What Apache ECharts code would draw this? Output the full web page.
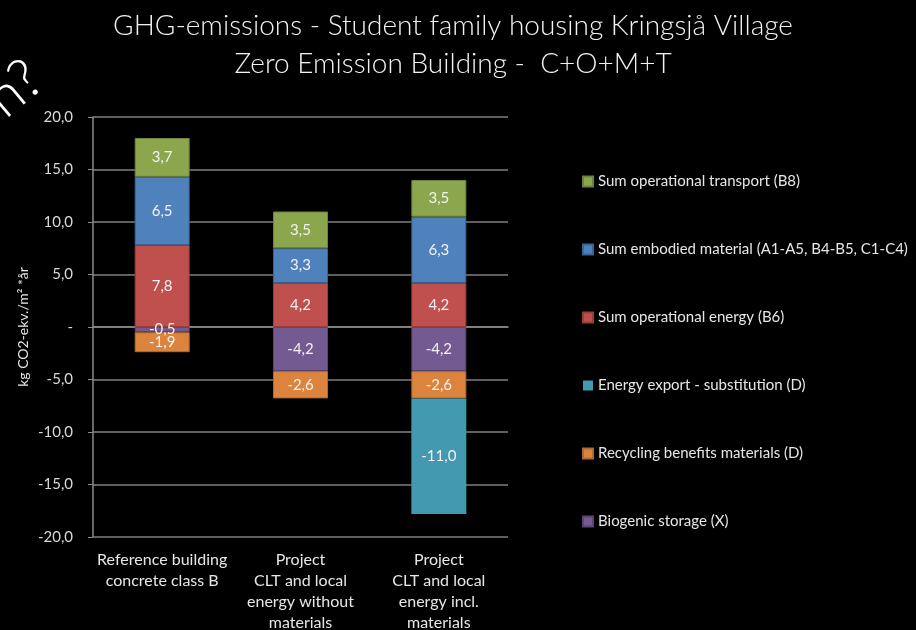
<!DOCTYPE html>
<html>
<head>
<meta charset="utf-8">
<title>GHG-emissions Kringsjå</title>
<script src="https://cdn.jsdelivr.net/npm/echarts@6/dist/echarts.min.js"></script>
<style>
html,body{margin:0;padding:0;background:#000;}
#chart{width:916px;height:630px;}
</style>
</head>
<body>
<div id="chart"></div>
<script>
// data
var categories = ['Reference building\nconcrete class B', 'Project\nCLT and local\nenergy without\nmaterials', 'Project\nCLT and local\nenergy incl.\nmaterials'];
var operationalEnergy = [7.8, 4.2, 4.2];
var embodiedMaterial = [6.5, 3.3, 6.3];
var operationalTransport = [3.7, 3.5, 3.5];
var biogenicStorage = [-0.5, -4.2, -4.2];
var recyclingBenefits = [-1.9, -2.6, -2.6];
var energyExport = [0, 0, -11.0];
var legendOrder = ['Sum operational transport (B8)', 'Sum embodied material (A1-A5, B4-B5, C1-C4)', 'Sum operational energy (B6)', 'Energy export - substitution (D)', 'Recycling benefits materials (D)', 'Biogenic storage (X)'];

var font = 'Lato, "Open Sans", sans-serif';
var chart = echarts.init(document.getElementById('chart'));

function fmt(v){
	return v.toFixed(1).replace('.', ',');
}

function mkSeries(name, data, color, border){
	return {
		name: name,
		type: 'bar',
		stack: 'total',
		barWidth: 55,
		data: data,
		itemStyle: {color: color, borderColor: border, borderWidth: border ? 1 : 0},
		label: {
			show: true,
			position: 'inside',
			color: '#f2f2f2',
			fontFamily: font,
			fontSize: 15,
			formatter: function(p){ return p.value === 0 ? '' : fmt(p.value); }
		}
	};
}

chart.setOption({
	backgroundColor: '#000',
	animation: false,
	title: {
		text: 'GHG-emissions - Student family housing Kringsjå Village\nZero Emission Building -  C+O+M+T',
		left: 448,
		textAlign: 'center',
		top: 2,
		textStyle: {color: '#f2f2f2', fontFamily: font, fontSize: 28, fontWeight: 300, lineHeight: 38}
	},
	graphic: [{
		type: 'text',
		left: -24,
		top: 50,
		rotation: Math.PI / 4.5,
		style: {text: 'n?', fill: '#fff', font: '300 56px ' + font}
	}],
	legend: {
		orient: 'vertical',
		left: 577,
		top: 169,
		itemGap: 53,
		itemWidth: 10,
		itemHeight: 10,
		icon: 'rect',
		data: legendOrder,
		textStyle: {color: '#e6e6e6', fontFamily: font, fontSize: 15}
	},
	grid: {left: 93, right: 408, top: 117, bottom: 93, outerBoundsMode: 'none'},
	xAxis: {
		type: 'category',
		data: categories,
		axisLine: {lineStyle: {color: '#8a8a8a', width: 1.5}},
		axisTick: {length: 5, lineStyle: {color: '#8a8a8a'}},
		axisLabel: {
			color: '#e6e6e6', fontFamily: font, fontSize: 16, lineHeight: 21,
			interval: 0,
			margin: 12,
			verticalAlign: 'top'
		},
		position: 'bottom'
	},
	yAxis: {
		type: 'value',
		min: -20,
		max: 20,
		interval: 5,
		name: 'kg CO2-ekv./m² *år',
		nameLocation: 'middle',
		nameGap: 63,
		nameTextStyle: {color: '#e6e6e6', fontFamily: font, fontSize: 14},
		axisLine: {show: true, lineStyle: {color: '#8a8a8a', width: 1.5}},
		axisTick: {show: true, length: 5, lineStyle: {color: '#8a8a8a'}},
		splitLine: {lineStyle: {color: '#7f7f7f', width: 1.5}},
		axisLabel: {
			color: '#d9d9d9', fontFamily: font, fontSize: 15, margin: 20,
			formatter: function(v){ return v === 0 ? '-' : fmt(v); }
		}
	},
	series: [
		mkSeries('Sum operational energy (B6)', operationalEnergy, '#c0504d', '#9a3e3b'),
		mkSeries('Sum embodied material (A1-A5, B4-B5, C1-C4)', embodiedMaterial, '#4f81bd', '#3b6590'),
		mkSeries('Sum operational transport (B8)', operationalTransport, '#8ba64c', '#6b833a'),
		mkSeries('Biogenic storage (X)', biogenicStorage, '#735a90', '#5a4671'),
		mkSeries('Recycling benefits materials (D)', recyclingBenefits, '#dc843d', '#b06a30'),
		mkSeries('Energy export - substitution (D)', energyExport, '#4399b0', null)
	]
});
</script>
</body>
</html>
